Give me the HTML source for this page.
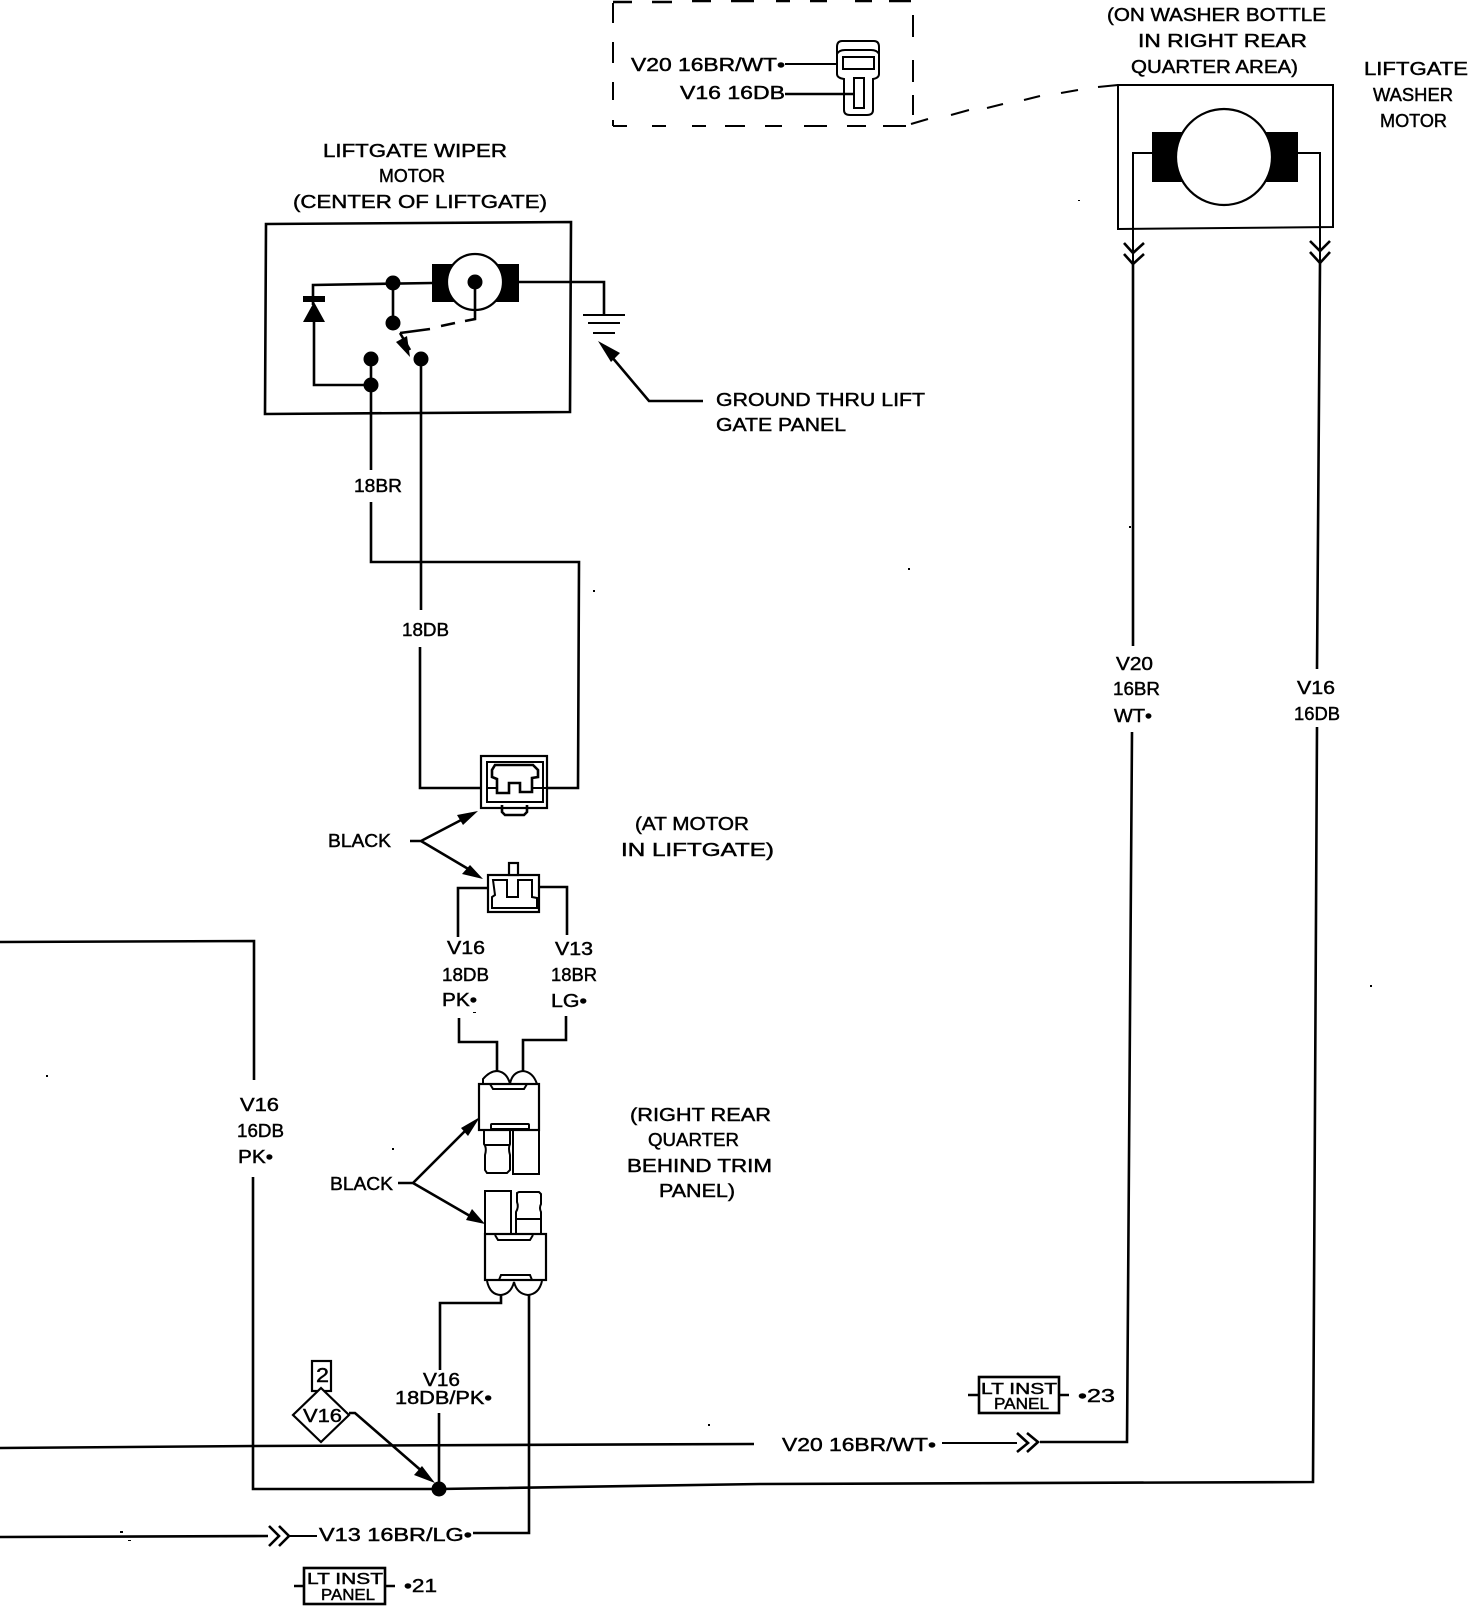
<!DOCTYPE html>
<html><head><meta charset="utf-8"><title>Liftgate wiper and washer wiring</title>
<style>
html,body{margin:0;padding:0;background:#fff;width:1472px;height:1606px;overflow:hidden}
svg{display:block}
text{font-family:"Liberation Sans",sans-serif;font-size:18px;fill:#000;stroke:#000;stroke-width:.45px}
.s{font-size:15.5px}
.w{fill:none;stroke:#000;stroke-width:2.6}
.t{fill:none;stroke:#000;stroke-width:2}
.k{fill:#000;stroke:none}
.o{fill:#fff;stroke:#000;stroke-width:2.2}
</style></head><body>
<svg width="1472" height="1606" viewBox="0 0 1472 1606" xmlns="http://www.w3.org/2000/svg">
<!-- dashed inset -->
<path class="t" d="M613 23V3M613 42V63M613 82V100M613 120V126M913 15V37M913 60V82M913 95V115"/>
<path class="w" d="M613 2H632M652 2H672M692 1H711M731 1H754M776 1H790M810 1H827M855 1H872M889 1H911"/>
<path class="t" d="M613 126H627M652 126H666M692 126H706M725 126H745M765 126H782M804 126H827M847 126H866M883 126H906"/>
<path class="t" d="M911 124L928 119M951 115L969 110M987 108L1003 104M1024 100L1040 96M1061 93L1078 90M1098 87L1118 85"/>
<text lengthAdjust="spacingAndGlyphs" x="631" y="71" textLength="154">V20 16BR/WT•</text>
<text lengthAdjust="spacingAndGlyphs" x="680" y="99" textLength="105">V16 16DB</text>
<path class="t" d="M785 64H837"/><path class="w" d="M785 94H854"/>
<path class="t" d="M842 41H874Q879 41 879 47V74Q879 78 873 79V110Q873 115 867 115H850Q844 115 844 110V79Q837 78 837 74V47Q837 41 842 41Z"/>
<path class="t" d="M837 54Q839 50 845 50H871Q877 50 879 54"/>
<rect class="t" x="843" y="57" width="31" height="12"/>
<rect class="t" x="854" y="78" width="10" height="30"/>

<!-- washer motor -->
<text lengthAdjust="spacingAndGlyphs" x="1107" y="21" textLength="219">(ON WASHER BOTTLE</text>
<text lengthAdjust="spacingAndGlyphs" x="1138" y="47" textLength="169">IN RIGHT REAR</text>
<text lengthAdjust="spacingAndGlyphs" x="1131" y="73" textLength="167">QUARTER AREA)</text>
<text lengthAdjust="spacingAndGlyphs" x="1364" y="75" textLength="104">LIFTGATE</text>
<text lengthAdjust="spacingAndGlyphs" x="1373" y="101" textLength="80">WASHER</text>
<text lengthAdjust="spacingAndGlyphs" x="1380" y="127" textLength="67">MOTOR</text>
<path class="t" d="M1118 85H1333V227L1118 229Z"/>
<rect class="k" x="1152" y="132" width="146" height="50"/>
<circle cx="1224" cy="157" r="48" class="o"/>
<path class="t" d="M1152 153H1133V242M1298 153H1320V240"/>
<path class="t" d="M1133 242V276"/>
<path class="w" d="M1124 243L1133 253L1144 243M1124 254L1133 264L1144 254M1310 241L1320 251L1330 241M1310 252L1320 263L1330 252"/>
<path class="t" d="M1320 240V263"/>
<path class="w" d="M1133 264L1133 646M1320 263L1317 669M1132 732L1127 1442H1040M1317 727L1313 1482L760 1484L439 1489"/>
<text lengthAdjust="spacingAndGlyphs" x="1116" y="670" textLength="37">V20</text>
<text lengthAdjust="spacingAndGlyphs" x="1113" y="695" textLength="47">16BR</text>
<text lengthAdjust="spacingAndGlyphs" x="1114" y="722" textLength="38">WT•</text>
<text lengthAdjust="spacingAndGlyphs" x="1297" y="694" textLength="38">V16</text>
<text lengthAdjust="spacingAndGlyphs" x="1294" y="720" textLength="46">16DB</text>

<!-- wiper motor -->
<text lengthAdjust="spacingAndGlyphs" x="323" y="157" textLength="184">LIFTGATE WIPER</text>
<text lengthAdjust="spacingAndGlyphs" x="379" y="182" textLength="66">MOTOR</text>
<text lengthAdjust="spacingAndGlyphs" x="293" y="208" textLength="254">(CENTER OF LIFTGATE)</text>
<path class="w" d="M266 224L571 222L570 412L265 414Z"/>
<rect class="k" x="432" y="264" width="87" height="38"/>
<circle class="o" cx="475" cy="282" r="28"/>
<circle class="k" cx="475" cy="282" r="7.5"/>
<path class="w" d="M475 282V319L465 321M455 323L441 326M430 329L400 333M313 305V285L432 283M519 282H604V314M393 283V323M371 359V470M314 320V385H371M421 359V610M371 502V562H579L578 788H532M420 647V788H497"/>
<rect class="k" x="303" y="296" width="22" height="6"/>
<path class="k" d="M314 302L303 322H325Z"/>
<circle class="k" cx="393" cy="283" r="7.5"/><circle class="k" cx="393" cy="323" r="7.5"/>
<circle class="k" cx="371" cy="359" r="7.5"/><circle class="k" cx="371" cy="385" r="7.5"/>
<circle class="k" cx="421" cy="359" r="7.5"/>
<path class="w" d="M400 333L410 350"/>
<path class="k" d="M410 357L396 342L407 336Z"/>
<path class="t" d="M583 315H625M588 323H620M593 333H615"/>
<path class="w" d="M703 401H649L606 350"/>
<path class="k" d="M598 341L620 353L611 362Z"/>
<text lengthAdjust="spacingAndGlyphs" x="716" y="406" textLength="209">GROUND THRU LIFT</text>
<text lengthAdjust="spacingAndGlyphs" x="716" y="431" textLength="130">GATE PANEL</text>
<text lengthAdjust="spacingAndGlyphs" x="354" y="492" textLength="48">18BR</text>
<text lengthAdjust="spacingAndGlyphs" x="402" y="636" textLength="47">18DB</text>

<!-- top connector -->
<rect class="o" x="481" y="756" width="66" height="52"/>
<rect class="t" x="487" y="762" width="56" height="40"/>
<path class="w" d="M495 765H533L538 770V777L532 778V792H520V783H509V793H497V779L492 777V770Z" fill="none"/>
<path class="t" d="M487 788H497M532 788H547"/>
<path class="w" d="M502 805V812L505 815H524L527 812V805"/>
<text lengthAdjust="spacingAndGlyphs" x="328" y="847" textLength="63">BLACK</text>
<path class="w" d="M410 841H421L465 818M421 841L470 870"/>
<path class="k" d="M478 811L457 815L463 825Z"/>
<path class="k" d="M483 879L470 865L462 874Z"/>
<text lengthAdjust="spacingAndGlyphs" x="635" y="830" textLength="114">(AT MOTOR</text>
<text lengthAdjust="spacingAndGlyphs" x="621" y="856" textLength="153">IN LIFTGATE)</text>

<!-- mating connector -->
<rect class="o" x="488" y="875" width="51" height="37"/>
<rect class="o" x="509" y="863" width="9" height="12"/>
<path class="t" d="M509 875H518"/>
<path class="t" d="M493 880H507V897H518V880H532V897L537 898V908H492V897L495 895Z"/>
<path class="w" d="M488 888H458V937M539 887H567V935"/>
<text lengthAdjust="spacingAndGlyphs" x="447" y="954" textLength="38">V16</text>
<text lengthAdjust="spacingAndGlyphs" x="442" y="981" textLength="47">18DB</text>
<text lengthAdjust="spacingAndGlyphs" x="442" y="1006" textLength="35">PK•</text>
<text lengthAdjust="spacingAndGlyphs" x="555" y="955" textLength="38">V13</text>
<text lengthAdjust="spacingAndGlyphs" x="551" y="981" textLength="46">18BR</text>
<text lengthAdjust="spacingAndGlyphs" x="551" y="1007" textLength="36">LG•</text>
<path class="w" d="M459 1018V1042H497V1071M566 1016V1040H523V1071"/>

<!-- quarter connector upper -->
<path class="t" d="M483 1084V1079Q490 1071 497 1071Q507 1072 510 1084Q512 1072 523 1071Q533 1072 537 1084"/>
<rect class="o" x="479" y="1084" width="60" height="46"/>
<path class="t" d="M490 1084L493 1089H524L527 1084"/>
<rect class="t" x="491" y="1124" width="38" height="5" rx="1"/>
<path class="t" d="M513 1130V1174H539V1130"/>
<path class="t" d="M484 1130V1144Q487 1148 485 1155V1170L487 1173H507L510 1170V1155Q508 1148 510 1144V1130M484 1145H510"/>
<text lengthAdjust="spacingAndGlyphs" x="330" y="1190" textLength="63">BLACK</text>
<path class="w" d="M398 1183H413L468 1128M413 1183L470 1216"/>
<path class="k" d="M480 1117L461 1128L468 1136Z"/>
<path class="k" d="M485 1224L472 1209L466 1220Z"/>
<text lengthAdjust="spacingAndGlyphs" x="630" y="1121" textLength="141">(RIGHT REAR</text>
<text lengthAdjust="spacingAndGlyphs" x="648" y="1146" textLength="91">QUARTER</text>
<text lengthAdjust="spacingAndGlyphs" x="627" y="1172" textLength="145">BEHIND TRIM</text>
<text lengthAdjust="spacingAndGlyphs" x="659" y="1197" textLength="76">PANEL)</text>

<!-- quarter connector lower -->
<path class="t" d="M485 1235V1191H511V1235"/>
<path class="t" d="M516 1235V1212Q519 1207 517 1202V1193L519 1192H539L541 1194V1204Q539 1208 541 1212V1235M515 1219H541"/>
<rect class="o" x="485" y="1234" width="61" height="46"/>
<path class="t" d="M495 1235L498 1240H530L533 1235"/>
<path class="t" d="M499 1280L501 1275H530L532 1280"/>
<path class="t" d="M487 1281Q490 1295 501 1295Q511 1294 514 1282Q517 1294 528 1295Q539 1294 542 1281"/>
<path class="w" d="M501 1295V1303H440V1370M529 1295V1533H473M439 1413V1488"/>
<text lengthAdjust="spacingAndGlyphs" x="423" y="1386" textLength="37">V16</text>
<text lengthAdjust="spacingAndGlyphs" x="395" y="1404" textLength="97">18DB/PK•</text>

<!-- lower wiring -->
<path class="w" d="M0 942L254 941V1080M253 1177V1489H439"/>
<text lengthAdjust="spacingAndGlyphs" x="240" y="1111" textLength="39">V16</text>
<text lengthAdjust="spacingAndGlyphs" x="237" y="1137" textLength="47">16DB</text>
<text lengthAdjust="spacingAndGlyphs" x="238" y="1163" textLength="35">PK•</text>
<path class="w" d="M0 1448L254 1446L754 1444"/>
<text lengthAdjust="spacingAndGlyphs" x="782" y="1451" textLength="154">V20 16BR/WT•</text>
<path class="t" d="M942 1443H1017"/>
<path class="w" d="M1017 1433L1028 1443L1017 1452M1027 1433L1038 1442L1027 1452"/>
<rect class="o" x="312" y="1361" width="19" height="30"/>
<text lengthAdjust="spacingAndGlyphs" x="316" y="1382" textLength="13" style="font-size:20px">2</text>
<path class="o" d="M321 1388L349 1415L321 1442L293 1415Z"/>
<text lengthAdjust="spacingAndGlyphs" x="303" y="1422" textLength="39">V16</text>
<path class="w" d="M349 1413H355L424 1473"/>
<path class="k" d="M435 1483L422 1466L414 1475Z"/>
<circle class="k" cx="439" cy="1489" r="7.5"/>
<path class="w" d="M0 1537L268 1536"/>
<path class="w" d="M269 1526L279 1536L269 1546M279 1526L289 1536L279 1546"/>
<path class="t" d="M289 1536H317"/>
<text lengthAdjust="spacingAndGlyphs" x="319" y="1541" textLength="153">V13 16BR/LG•</text>

<!-- LT INST PANEL tags -->
<rect class="w" x="304" y="1568" width="81" height="36" fill="#fff"/>
<path class="w" d="M294 1586H304M385 1586H395"/>
<text lengthAdjust="spacingAndGlyphs" class="s" x="307" y="1584" textLength="76">LT INST</text>
<text lengthAdjust="spacingAndGlyphs" class="s" x="321" y="1600" textLength="54">PANEL</text>
<text lengthAdjust="spacingAndGlyphs" x="404" y="1592" textLength="33">•21</text>
<rect class="w" x="979" y="1377" width="80" height="36" fill="#fff"/>
<path class="w" d="M968 1395H979M1059 1395H1069"/>
<text lengthAdjust="spacingAndGlyphs" class="s" x="981" y="1394" textLength="76">LT INST</text>
<text lengthAdjust="spacingAndGlyphs" class="s" x="994" y="1409" textLength="55">PANEL</text>
<text lengthAdjust="spacingAndGlyphs" x="1078" y="1402" textLength="37">•23</text>

<!-- specks -->
<path class="k" d="M1129 526h2v2h-2zM908 568h2v2h-2zM593 590h2v2h-2zM1370 985h2v2h-2zM46 1075h2v2h-2zM392 1148h2v2h-2zM120 1531h3v2h-3zM128 1540h3v1h-3zM473 1012h3v1h-3zM708 1424h2v2h-2zM1078 200h2v1h-2z"/>
</svg>
</body></html>
